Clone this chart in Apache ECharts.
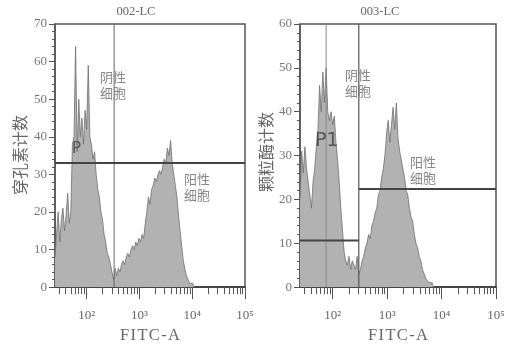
<!DOCTYPE html>
<html><head><meta charset="utf-8">
<script src="https://cdn.jsdelivr.net/npm/echarts@6/dist/echarts.min.js"></script>
<style>html,body{margin:0;padding:0;background:#fff}#c{width:514px;height:349px}</style>
</head><body><div id="c"></div>
<script>
// ---- data (x in log10 units of FITC-A) ----
const binStart = 1.40;
const binStep = 0.03;
const countsLC002 = [8,14,20,12,18,21,15,19,25,17,20,38,40,64,36,50,40,45,38,47,42,59,40,38,34,36,30,26,24,20,18,14,12,9,8,6,4,2,5,3,5,4,6,7,6,8,9,8,10,11,10,12,11,13,12,14,13,17,20,24,22,26,27,29,28,30,31,30,32,34,33,37,35,39,33,30,27,24,19,15,11,7,5,3,2,1,1,0.5,0];
const countsLC003 = [20,31,26,32,27,24,21,18,24,27,32,36,46,40,49,42,50,40,38,40,37,39,33,29,24,18,13,8,6,5,7,4,6,5,4,7,3,4,6,7,9,10,12,11,14,15,17,18,21,22,25,27,30,35,38,33,37,41,36,42,34,31,29,27,25,22,21,18,16,15,12,10,9,7,6,4,3,2,1.5,1,1,0.5,0];
const panelTitles = ['002-LC', '003-LC'];
const yNames = ['穿孔素计数', '颗粒酶计数'];
const xName = 'F\u200AI\u200AT\u200AC\u200A-\u200AA';
const yMaxes = [70, 60];
const majorTickLogs = [2, 3, 4, 5];
const majorTickLabels = ['10²', '10³', '10⁴', '10⁵'];
const minorTickValues = [30,40,50,60,70,80,90,200,300,400,500,600,700,800,900,2000,3000,4000,5000,6000,7000,8000,9000,20000,30000,40000,50000,60000,70000,80000,90000];
// gates
const gate002Vertical = 2.52, gate002Horizontal = 33;
const gate003P1 = 1.88, gate003Vertical = 2.48, gate003LeftH = 10.6, gate003RightH = 22.4;
const gateLabels = ['阴性\n细胞', '阳性\n细胞'];

const minorLogs = minorTickValues.map(v => Math.log10(v));
const toPts = arr => arr.map((c, i) => [+(binStart + i * binStep).toFixed(3), c]);

const serif = 'Liberation Serif';
const grids = [
  {left: 55, top: 24, width: 190, height: 265},
  {left: 300, top: 24, width: 196, height: 265}
];
const xAxes = [], yAxes = [];
for (let g = 0; g < 2; g++) {
  xAxes.push({
    gridIndex: g, type: 'value', min: 1.4, max: 5,
    axisLine: {show: true, lineStyle: {color: '#444', width: 2}},
    axisTick: {show: true, inside: false, length: 7, customValues: minorLogs, lineStyle: {color: '#555', width: 1}},
    axisLabel: {show: false},
    splitLine: {show: false}
  });
  xAxes.push({
    gridIndex: g, type: 'value', min: 1.4, max: 5, position: 'bottom',
    name: xName, nameLocation: 'middle', nameGap: 38,
    nameTextStyle: {fontFamily: serif, fontSize: 16.5, color: '#666'},
    axisLine: {show: false},
    axisTick: {show: true, length: 12, customValues: majorTickLogs, lineStyle: {color: '#555', width: 1}},
    axisLabel: {show: true, customValues: majorTickLogs, margin: 22, fontFamily: serif, fontSize: 13, color: '#666',
      formatter: v => majorTickLabels[majorTickLogs.indexOf(Math.round(v))] || ''},
    splitLine: {show: false}
  });
  yAxes.push({
    gridIndex: g, type: 'value', min: 0, max: yMaxes[g], interval: 10,
    axisLine: {show: true, lineStyle: {color: '#555', width: 1.5}},
    axisTick: {show: true, length: 6, lineStyle: {color: '#555'}},
    minorTick: {show: true, splitNumber: 5, length: 3, lineStyle: {color: '#555'}},
    axisLabel: {margin: 8, fontFamily: serif, fontSize: 13, color: '#777'},
    splitLine: {show: false}
  });
}

function histSeries(g, counts) {
  return {
    type: 'line', xAxisIndex: g * 2, yAxisIndex: g, data: toPts(counts),
    step: 'end', symbol: 'none', silent: true,
    lineStyle: {color: '#6e6e6e', width: 0.8},
    areaStyle: {color: '#b2b2b2', opacity: 1, origin: 'start'}
  };
}
function gateLine(g, pts, color, width) {
  return {type: 'line', xAxisIndex: g * 2, yAxisIndex: g, data: pts, symbol: 'none', silent: true, z: 5,
    lineStyle: {color: color, width: width}};
}

const series = [
  histSeries(0, countsLC002),
  histSeries(1, countsLC003),
  gateLine(0, [[gate002Vertical, 0], [gate002Vertical, 70]], '#666', 1),
  gateLine(0, [[1.4, gate002Horizontal], [5, gate002Horizontal]], '#444', 2),
  gateLine(1, [[gate003P1, 0], [gate003P1, 60]], '#888', 1),
  gateLine(1, [[gate003Vertical, 0], [gate003Vertical, 60]], '#555', 1.2),
  gateLine(1, [[1.4, gate003LeftH], [gate003Vertical, gate003LeftH]], '#444', 2),
  gateLine(1, [[gate003Vertical, gate003RightH], [5, gate003RightH]], '#444', 2)
];

const txt = (x, y, text, size, color, extra) => ({
  type: 'text', x: x, y: y, silent: true, z: 100,
  style: Object.assign({text: text, fontSize: size, fill: color, fontFamily: 'Noto Sans CJK SC'}, extra || {})
});

const graphic = [
  txt(136, 12, panelTitles[0], 12.5, '#666', {fontFamily: serif, align: 'center', verticalAlign: 'middle'}),
  txt(380, 12, panelTitles[1], 12.5, '#666', {fontFamily: serif, align: 'center', verticalAlign: 'middle'}),
  Object.assign(txt(20, 155, yNames[0], 16, '#666', {align: 'center', verticalAlign: 'middle'}), {rotation: Math.PI / 2}),
  Object.assign(txt(266, 152, yNames[1], 16, '#666', {align: 'center', verticalAlign: 'middle'}), {rotation: Math.PI / 2}),
  txt(100, 69, gateLabels[0], 13, '#888', {lineHeight: 16}),
  txt(184, 171, gateLabels[1], 13, '#888', {lineHeight: 16}),
  txt(345, 67, gateLabels[0], 13, '#888', {lineHeight: 16}),
  txt(410, 154, gateLabels[1], 13, '#888', {lineHeight: 16}),
  txt(72, 142, 'P', 15, '#555', {fontFamily: 'DejaVu Sans'}),
  txt(315, 132, 'P1', 19, '#555', {fontFamily: 'DejaVu Sans'})
];

const chart = echarts.init(document.getElementById('c'), null, {renderer: 'canvas'});
chart.setOption({
  animation: false,
  backgroundColor: '#fff',
  grid: grids.map(g => Object.assign({show: true, borderColor: '#555', borderWidth: 1.5, backgroundColor: 'transparent'}, g)),
  xAxis: xAxes, yAxis: yAxes, series: series, graphic: graphic
});
</script></body></html>
